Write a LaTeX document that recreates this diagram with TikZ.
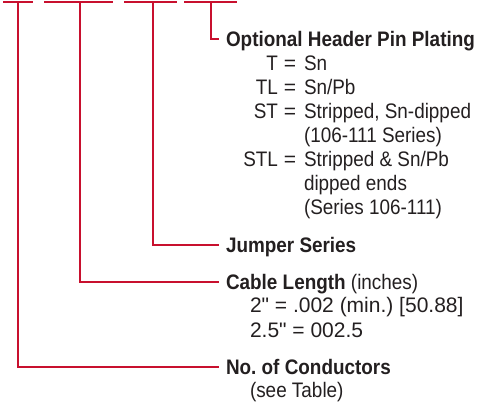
\documentclass[tikz,border=0pt]{standalone}
\usepackage{fontspec}
\setmainfont{Liberation Sans}[FakeStretch=0.9]
\newfontfamily\widefont{Liberation Sans}
\frenchspacing
\definecolor{leadred}{RGB}{200,16,46}
\definecolor{txtgray}{RGB}{35,31,32}
\tikzset{
  lead/.style={draw=leadred, line width=2.6pt, line cap=butt, line join=miter},
  lbl/.style={inner sep=0pt, outer sep=0pt, text=txtgray, anchor=base west,
              font=\fontsize{21}{24}\selectfont},
  hd/.style={lbl, font=\fontsize{21}{24}\selectfont\bfseries},
  numlbl/.style={lbl, font=\fontsize{21}{24}\selectfont\widefont},
  code/.style={lbl, anchor=base east},
  eqs/.style={lbl, anchor=base, font=\fontsize{21}{24}\selectfont\widefont}
}
\begin{document}
\begin{tikzpicture}[x=1pt,y=-1pt]
\useasboundingbox (0,0) rectangle (498,402);

% --- coordinates of the leaders ---
\coordinate (s1a) at (3,2);   \coordinate (s1b) at (33,2);
\coordinate (s2a) at (44,2);  \coordinate (s2b) at (113,2);
\coordinate (s3a) at (124,2); \coordinate (s3b) at (177,2);
\coordinate (s4a) at (184,2); \coordinate (s4b) at (237,2);

\coordinate (t1) at (18,2);  \coordinate (c1) at (18,367);  \coordinate (e1) at (219,367);
\coordinate (t2) at (80,2);  \coordinate (c2) at (80,282);  \coordinate (e2) at (219,282);
\coordinate (t3) at (153,2); \coordinate (c3) at (153,245); \coordinate (e3) at (219,245);
\coordinate (t4) at (211,2); \coordinate (c4) at (211,39);  \coordinate (e4) at (219,39);

% --- blanks ---
\draw[lead] (s1a) -- (s1b);
\draw[lead] (s2a) -- (s2b);
\draw[lead] (s3a) -- (s3b);
\draw[lead] (s4a) -- (s4b);

% --- leaders ---
\draw[lead] (t1) -- (c1) -- (e1);
\draw[lead] (t2) -- (c2) -- (e2);
\draw[lead] (t3) -- (c3) -- (e3);
\draw[lead] (t4) -- (c4) -- (e4);

% --- Optional Header Pin Plating ---
\node[hd] (opt) at (226,46.5) {Optional Header Pin Plating};
\node[code] (cT)  at (278,70.5)  {T};
\node[eqs]  (qT)  at (290,70.5)  {=};
\node[lbl]  (vT)  at (304,70.5)  {Sn};
\node[code] (cTL) at (278,94.5)  {TL};
\node[eqs]  (qTL) at (290,94.5)  {=};
\node[lbl]  (vTL) at (304,94.5)  {Sn/Pb};
\node[code] (cST) at (278,118.5) {ST};
\node[eqs]  (qST) at (290,118.5) {=};
\node[lbl]  (vST) at (304,118.5) {Stripped, Sn-dipped};
\node[lbl]  (vST2) at (304,142.5) {(106-111 Series)};
\node[code] (cSTL) at (278,166.5) {STL};
\node[eqs]  (qSTL) at (290,166.5) {=};
\node[lbl]  (vSTL) at (304,166.5) {Stripped \& Sn/Pb};
\node[lbl]  (vSTL2) at (304,190.5) {dipped ends};
\node[lbl]  (vSTL3) at (304,214.5) {(Series 106-111)};

% --- Jumper Series ---
\node[hd] (jmp) at (226,252) {Jumper Series};

% --- Cable Length ---
\node[lbl] (cab) at (226,289) {\bfseries Cable Length \mdseries(inches)};
\node[numlbl] (cab1) at (250,312.5) {2" = .002 (min.) [50.88]};
\node[numlbl] (cab2) at (250,337) {2.5" = 002.5};

% --- No. of Conductors ---
\node[hd] (noc) at (226,374.5) {No. of Conductors};
\node[lbl] (noc1) at (250,397) {(see Table)};
\end{tikzpicture}
\end{document}
